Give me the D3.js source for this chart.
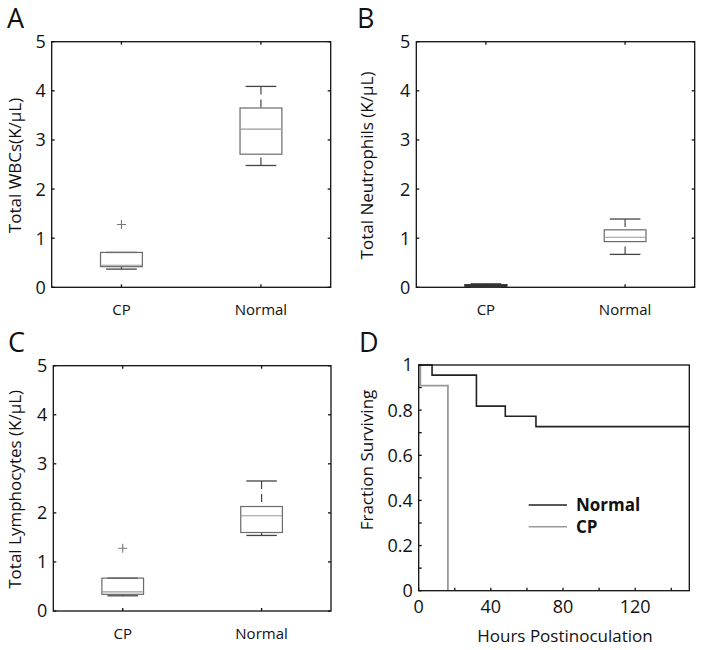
<!DOCTYPE html>
<html><head><meta charset="utf-8">
<script src="https://cdn.jsdelivr.net/npm/d3@7"></script>
<style>body{margin:0;background:#fff}svg{display:block}text{font-family:"Open Sans","Noto Sans",sans-serif;fill:#111}</style>
</head><body><svg id="c" width="704" height="650"></svg>
<script>
// ---- data ----
const categories = ["CP", "Normal"];
const yTicksBox = [0, 1, 2, 3, 4, 5];
// box stats: [lowWhisker, q1, median, q3, highWhisker]
const wbcCP = [0.37, 0.42, 0.45, 0.71, 0.71];
const wbcNormal = [2.48, 2.71, 3.22, 3.65, 4.09];
const wbcOutliers = [[0, 1.28]];
const neuCP = [0.00, 0.02, 0.03, 0.05, 0.07];
const neuNormal = [0.67, 0.93, 1.02, 1.17, 1.39];
const neuOutliers = [];
const lymCP = [0.31, 0.34, 0.39, 0.67, 0.67];
const lymNormal = [1.54, 1.60, 1.94, 2.13, 2.65];
const lymOutliers = [[0, 1.28]];
// survival (hours, fraction)
const survNormal = [[0, 1], [7.4, 0.955], [32, 0.818], [48, 0.773], [65, 0.727], [150, 0.727]];
const survCP = [[0, 1], [0.9, 0.909], [16.2, 0], [16.2, 0]];
const hourTicks = [0, 20, 40, 60, 80, 100, 120, 140];
const hourLabels = [0, 40, 80, 120];
const fracTicks = [0, 0.1, 0.2, 0.3, 0.4, 0.5, 0.6, 0.7, 0.8, 0.9, 1];
const fracLabels = [0, 0.2, 0.4, 0.6, 0.8, 1];
const legendNames = ["Normal", "CP"];

const svg = d3.select("#c");

function boxPanel(o) {
  const g = svg.append("g");
  const x = d3.scaleLinear().domain([0.5, 2.5]).range([o.l, o.r]);
  const y = d3.scaleLinear().domain([0, 5]).range([o.b, o.t]);
  // frame
  g.append("rect").attr("x", o.l).attr("y", o.t).attr("width", o.r - o.l).attr("height", o.b - o.t)
    .attr("fill", "none").attr("stroke", "#111").attr("stroke-width", 1.3);
  // ticks inside, all sides
  yTicksBox.forEach(v => {
    g.append("line").attr("x1", o.l).attr("x2", o.l + 3).attr("y1", y(v)).attr("y2", y(v)).attr("stroke", "#111").attr("stroke-width", 1.3);
    g.append("line").attr("x1", o.r).attr("x2", o.r - 3).attr("y1", y(v)).attr("y2", y(v)).attr("stroke", "#111").attr("stroke-width", 1.3);
    g.append("text").attr("x", o.l - 6).attr("y", y(v)).attr("dy", "0.36em").attr("text-anchor", "end")
      .attr("font-size", 18).text(v);
  });
  categories.forEach((c, i) => {
    const cx = x(i + 1);
    g.append("line").attr("x1", cx).attr("x2", cx).attr("y1", o.b).attr("y2", o.b - 3).attr("stroke", "#111").attr("stroke-width", 1.3);
    g.append("line").attr("x1", cx).attr("x2", cx).attr("y1", o.t).attr("y2", o.t + 3).attr("stroke", "#111").attr("stroke-width", 1.3);
    g.append("text").attr("x", cx).attr("y", o.b + 28).attr("text-anchor", "middle").attr("font-size", 15).text(c);
  });
  // boxes
  o.stats.forEach((s, i) => {
    const cx = x(i + 1);
    const hw = x(1.15) - x(1);
    const cw = x(1.11) - x(1);
    const [lw, q1, med, q3, hiw] = s;
    const dark = o.darkCP && i === 0;
    const wc = dark ? "#333" : "#444", bc = dark ? "#333" : "#6a6a6a", mc = dark ? "#333" : "#999";
    // whiskers (dashed)
    g.append("line").attr("x1", cx).attr("x2", cx).attr("y1", y(hiw)).attr("y2", y(q3))
      .attr("stroke", wc).attr("stroke-width", 1.2).attr("stroke-dasharray", "8,5");
    g.append("line").attr("x1", cx).attr("x2", cx).attr("y1", y(lw)).attr("y2", y(q1))
      .attr("stroke", wc).attr("stroke-width", 1.2).attr("stroke-dasharray", "8,5");
    // caps
    [lw, hiw].forEach(v => g.append("line").attr("x1", cx - cw).attr("x2", cx + cw).attr("y1", y(v)).attr("y2", y(v))
      .attr("stroke", wc).attr("stroke-width", 1.3));
    // box
    g.append("rect").attr("x", cx - hw).attr("y", y(q3)).attr("width", 2 * hw).attr("height", Math.max(y(q1) - y(q3), 0.5))
      .attr("fill", dark ? "#333" : "none").attr("stroke", bc).attr("stroke-width", dark ? 1.6 : 1.2);
    g.append("line").attr("x1", cx - hw).attr("x2", cx + hw).attr("y1", y(med)).attr("y2", y(med))
      .attr("stroke", mc).attr("stroke-width", 1.1);
  });
  o.outliers.forEach(([i, v]) => {
    const cx = x(i + 1), cy = y(v);
    g.append("path").attr("d", `M${cx - 4.5},${cy}H${cx + 4.5}M${cx},${cy - 4.5}V${cy + 4.5}`)
      .attr("stroke", "#777").attr("stroke-width", 1.1).attr("fill", "none");
  });
  // y title
  g.append("text").attr("transform", `translate(${o.tx},${(o.t + o.b) / 2 + 1}) rotate(-90)`)
    .attr("text-anchor", "middle").attr("font-size", 17).text(o.title);
  // panel letter
  g.append("text").attr("x", o.lx).attr("y", o.ly).attr("font-size", 27).text(o.letter);
}

boxPanel({l: 51.7, r: 330.7, t: 41.7, b: 287.3, stats: [wbcCP, wbcNormal], outliers: wbcOutliers,
  title: "Total WBCs(K/µL)", tx: 21, letter: "A", lx: 7, ly: 28});
boxPanel({l: 416.3, r: 694.7, t: 41.7, b: 287.3, stats: [neuCP, neuNormal], outliers: neuOutliers, darkCP: true,
  title: "Total Neutrophils (K/µL)", tx: 373, letter: "B", lx: 357, ly: 28});
boxPanel({l: 53.3, r: 331, t: 365.7, b: 611, stats: [lymCP, lymNormal], outliers: lymOutliers,
  title: "Total Lymphocytes (K/µL)", tx: 21, letter: "C", lx: 8, ly: 351.5});

// ---- panel D ----
(function () {
  const o = {l: 418.7, r: 689.3, t: 365, b: 590.7};
  const g = svg.append("g");
  const x = d3.scaleLinear().domain([0, 150]).range([o.l, o.r]);
  const y = d3.scaleLinear().domain([0, 1]).range([o.b, o.t]);
  const line = d3.line().x(d => x(d[0])).y(d => y(d[1])).curve(d3.curveStepAfter);
  g.append("path").datum(survCP).attr("d", line).attr("fill", "none").attr("stroke", "#9a9a9a").attr("stroke-width", 1.8);
  g.append("path").datum(survNormal).attr("d", line).attr("fill", "none").attr("stroke", "#222").attr("stroke-width", 1.6);
  g.append("rect").attr("x", o.l).attr("y", o.t).attr("width", o.r - o.l).attr("height", o.b - o.t)
    .attr("fill", "none").attr("stroke", "#111").attr("stroke-width", 1.3);
  hourTicks.forEach(v => g.append("line").attr("x1", x(v)).attr("x2", x(v)).attr("y1", o.b).attr("y2", o.b - 3)
    .attr("stroke", "#111").attr("stroke-width", 1.3));
  hourLabels.forEach(v => g.append("text").attr("x", x(v)).attr("y", o.b + 22).attr("text-anchor", "middle")
    .attr("font-size", 18).text(v));
  fracTicks.forEach(v => g.append("line").attr("x1", o.l).attr("x2", o.l + 3).attr("y1", y(v)).attr("y2", y(v))
    .attr("stroke", "#111").attr("stroke-width", 1.3));
  fracLabels.forEach(v => g.append("text").attr("x", o.l - 6).attr("y", y(v)).attr("dy", "0.36em").attr("text-anchor", "end")
    .attr("font-size", 18).text(v));
  g.append("text").attr("x", 565).attr("y", 642).attr("text-anchor", "middle").attr("font-size", 17).text("Hours Postinoculation");
  g.append("text").attr("transform", `translate(373,460) rotate(-90)`).attr("text-anchor", "middle")
    .attr("font-size", 17).text("Fraction Surviving");
  // legend
  const colors = ["#222", "#9a9a9a"];
  legendNames.forEach((n, i) => {
    const ly = 505 + i * 21.7;
    g.append("line").attr("x1", 528.7).attr("x2", 567).attr("y1", ly).attr("y2", ly).attr("stroke", colors[i]).attr("stroke-width", 1.6);
    g.append("text").attr("x", 576).attr("y", ly).attr("dy", "0.36em").attr("font-size", 17).attr("font-weight", "bold").text(n);
  });
  g.append("text").attr("x", 359).attr("y", 351.5).attr("font-size", 27).text("D");
})();
</script></body></html>
